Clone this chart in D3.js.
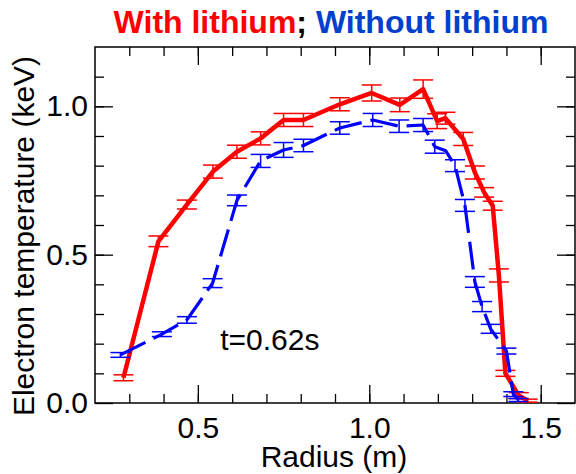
<!DOCTYPE html>
<html lang="en">
<head>
  <meta charset="UTF-8" />
  <title>Electron temperature profile</title>
  <script src="https://cdn.jsdelivr.net/npm/d3@7"></script>
  <style>
    html, body { margin: 0; padding: 0; background: #fff; }
    svg text { font-family: "Liberation Sans", Arial, sans-serif; }
  </style>
</head>
<body>
<div id="chart"></div>
<script>
// radius (m), Te (keV), error (keV)
const withR   = [0.283, 0.385, 0.468, 0.544, 0.614, 0.683, 0.750, 0.808, 0.914, 1.007, 1.089, 1.157, 1.198, 1.222, 1.274, 1.308, 1.335, 1.360, 1.378, 1.397, 1.436, 1.462];
const withTe  = [0.085, 0.545, 0.669, 0.780, 0.847, 0.892, 0.954, 0.954, 1.007, 1.045, 1.005, 1.058, 0.950, 0.960, 0.890, 0.777, 0.710, 0.665, 0.430, 0.100, 0.025, 0.008];
const withErr = [0.010, 0.018, 0.015, 0.022, 0.022, 0.022, 0.022, 0.022, 0.022, 0.027, 0.023, 0.031, 0.025, 0.020, 0.022, 0.022, 0.016, 0.015, 0.022, 0.010, 0.010, 0.005];

const noR   = [0.274, 0.395, 0.468, 0.543, 0.614, 0.683, 0.750, 0.808, 0.914, 1.010, 1.087, 1.157, 1.191, 1.223, 1.250, 1.279, 1.308, 1.329, 1.354, 1.400, 1.420, 1.435];
const noTe  = [0.162, 0.232, 0.280, 0.404, 0.683, 0.816, 0.853, 0.868, 0.927, 0.954, 0.933, 0.937, 0.864, 0.850, 0.800, 0.666, 0.408, 0.325, 0.250, 0.175, 0.030, 0.010];
const noErr = [0.008, 0.008, 0.011, 0.015, 0.018, 0.022, 0.025, 0.021, 0.021, 0.022, 0.021, 0.022, 0.022, 0.000, 0.020, 0.020, 0.018, 0.017, 0.015, 0.010, 0.008, 0.005];

const xMajor = [0.5, 1.0, 1.5];
const yMajor = [0.0, 0.5, 1.0];
const xMinor = d3.range(3, 16).map(d => d / 10);
const yMinor = d3.range(1, 12).map(d => d / 10);

const W = 576, H = 474;
const margin = { top: 47, right: 1, bottom: 71, left: 95 };
const width = W - margin.left - margin.right,
      height = H - margin.top - margin.bottom;

const x = d3.scaleLinear().domain([0.2, 1.6]).range([0, width]);
const y = d3.scaleLinear().domain([0, 1.2]).range([height, 0]);

const svg = d3.select("#chart").append("svg")
  .attr("width", W).attr("height", H);
const g = svg.append("g")
  .attr("transform", `translate(${margin.left},${margin.top})`);

const fmt = d3.format(".1f");
const FS = 30;

// axes (ticks point inward)
function axis(gen, ticks, size, labels, pad) {
  return gen.tickValues(ticks).tickSize(-size).tickSizeOuter(0)
    .tickPadding(pad).tickFormat(labels ? fmt : "");
}

const bottomAx = g.append("g").attr("transform", `translate(0,${height})`);
bottomAx.append("g").call(axis(d3.axisBottom(x), xMinor, 9, false, 0));
bottomAx.append("g").call(axis(d3.axisBottom(x), xMajor, 18, true, 14));

const topAx = g.append("g");
topAx.append("g").call(axis(d3.axisTop(x), xMinor, 9, false, 0));
topAx.append("g").call(axis(d3.axisTop(x), xMajor, 18, false, 0));

const leftAx = g.append("g");
leftAx.append("g").call(axis(d3.axisLeft(y), yMinor, 9, false, 0));
leftAx.append("g").call(axis(d3.axisLeft(y), yMajor, 18, true, 7));

const rightAx = g.append("g").attr("transform", `translate(${width},0)`);
rightAx.append("g").call(axis(d3.axisRight(y), yMinor, 9, false, 0));
rightAx.append("g").call(axis(d3.axisRight(y), yMajor, 18, false, 0));

g.selectAll(".domain").remove();
g.selectAll(".tick line").attr("stroke", "#000").attr("stroke-width", 1.3);
g.selectAll(".tick text")
  .attr("font-size", FS)
  .attr("fill", "#000");

g.append("rect")
  .attr("width", width).attr("height", height)
  .attr("fill", "none").attr("stroke", "#000").attr("stroke-width", 1.5);

// series
function series(rs, ts, es, color, lw, dash) {
  const pts = rs.map((r, i) => ({ r, t: ts[i], e: es[i] }));
  const eg = g.append("g").attr("stroke", color).attr("stroke-width", 1.5).attr("fill", "none");
  const bars = pts.filter(d => d.e > 0);
  eg.selectAll(".stem").data(bars).join("line")
    .attr("x1", d => x(d.r)).attr("x2", d => x(d.r))
    .attr("y1", d => y(d.t - d.e)).attr("y2", d => y(d.t + d.e));
  eg.selectAll(".capHi").data(bars).join("line")
    .attr("x1", d => x(d.r) - 10).attr("x2", d => x(d.r) + 10)
    .attr("y1", d => y(d.t + d.e)).attr("y2", d => y(d.t + d.e));
  eg.selectAll(".capLo").data(bars).join("line")
    .attr("x1", d => x(d.r) - 10).attr("x2", d => x(d.r) + 10)
    .attr("y1", d => y(d.t - d.e)).attr("y2", d => y(d.t - d.e));

  g.append("path")
    .datum(pts)
    .attr("fill", "none")
    .attr("stroke", color)
    .attr("stroke-width", lw)
    .attr("stroke-linejoin", "round")
    .attr("stroke-dasharray", dash)
    .attr("d", d3.line().x(d => x(d.r)).y(d => y(d.t)));
}

series(withR, withTe, withErr, "#ff0000", 4.5, null);
series(noR, noTe, noErr, "#0000ff", 3.2, "28,9");

// labels
g.append("text")
  .attr("x", x(0.565)).attr("y", y(0.18))
  .attr("font-size", FS)
  .text("t=0.62s");

svg.append("text")
  .attr("x", 334).attr("y", 467)
  .attr("text-anchor", "middle")
  .attr("font-size", FS)
  .text("Radius (m)");

svg.append("text")
  .attr("transform", "translate(34,236) rotate(-90)")
  .attr("text-anchor", "middle")
  .attr("font-size", FS)
  .text("Electron temperature (keV)");

const title = svg.append("text")
  .attr("x", 331).attr("y", 33)
  .attr("text-anchor", "middle")
  .attr("font-size", 32)
  .attr("font-weight", "bold");
title.append("tspan").attr("fill", "#ff0000").text("With lithium");
title.append("tspan").attr("fill", "#000").text("; ");
title.append("tspan").attr("fill", "#0040cc").text("Without lithium");
</script>
</body>
</html>
